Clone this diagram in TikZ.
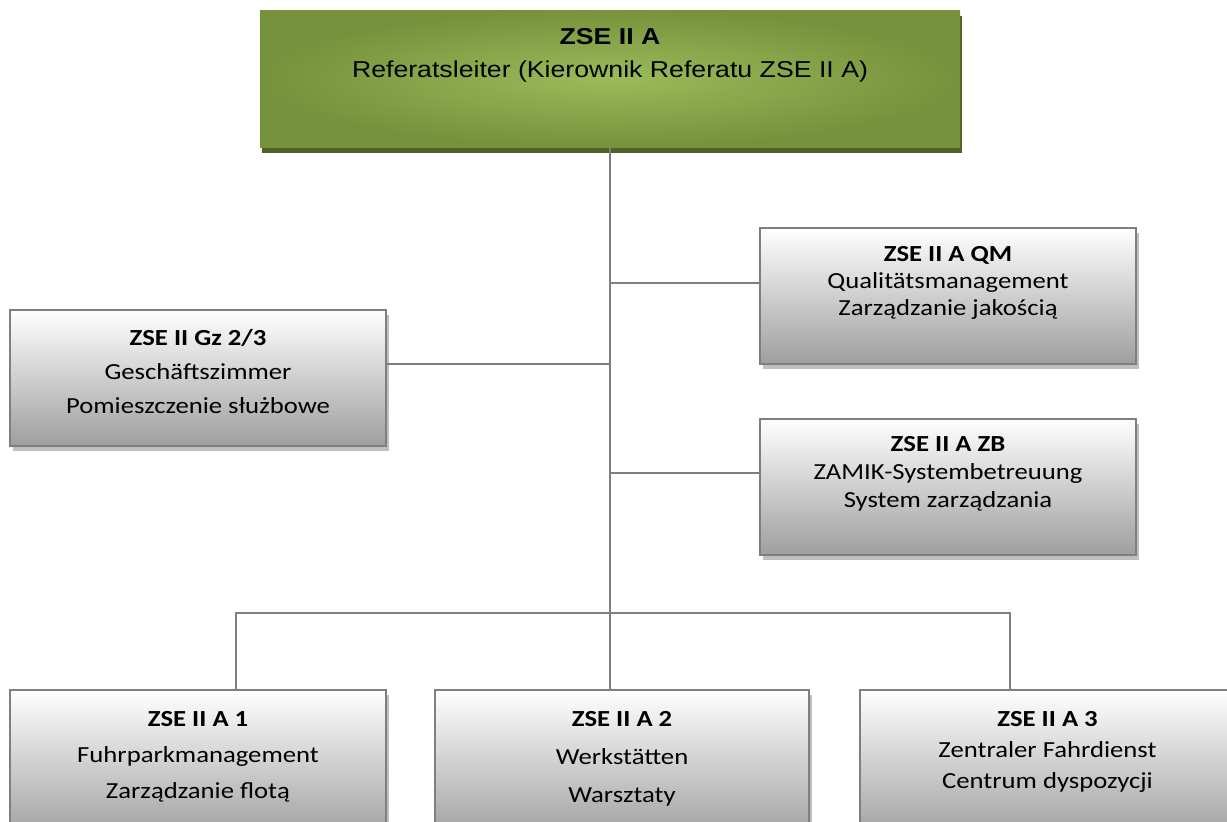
\documentclass[tikz,border=0pt]{standalone}
\usepackage{fontspec}
\usepackage{tikz}
\usetikzlibrary{positioning,shadows}
\newfontfamily\calfont{Carlito}[FakeStretch=1.16]
\newfontfamily\arialfont{Liberation Sans}[FakeStretch=1.16]
\definecolor{olivedk}{HTML}{76923C}
\definecolor{olivelt}{HTML}{9BBB59}
\definecolor{oliveshadow}{HTML}{4F6228}
\definecolor{linegray}{HTML}{7F7F7F}
\tikzset{
  unit/.style={draw=linegray, line width=1.2pt, top color=white, bottom color=black!38,
    minimum width=188pt, minimum height=68pt, inner sep=0pt,
    drop shadow={shadow xshift=1.5pt, shadow yshift=-2.5pt, fill=black!25, opacity=1}},
  unittext/.style={font=\calfont\fontsize{11.5}{#1}\selectfont, align=center, inner sep=0pt, anchor=base},
  link/.style={draw=linegray, line width=1.2pt}
}

\begin{document}
\begin{tikzpicture}[x=0.5pt, y=-0.5pt]
\useasboundingbox (0,0) rectangle (1227,821);
\clip (0,0) rectangle (1227,821);
\node[inner color=olivelt, outer color=olivedk, minimum width=350pt, minimum height=68.5pt, inner sep=0pt,
  drop shadow={shadow xshift=1.2pt, shadow yshift=-3pt, fill=oliveshadow, opacity=1}] (head) at (610,78.5) {};
\node[unit] (gz) at (198,378) {};
\node[unit] (qm) at (948,296) {};
\node[unit] (zb) at (948,487) {};
\node[unit, minimum height=75pt] (a1) at (198,765) {};
\node[unit, minimum height=75pt, minimum width=187pt] (a2) at (622,765) {};
\node[unit, minimum height=75pt, minimum width=187.5pt] (a3) at (1047.5,765) {};

\draw[link] (head.south) -- (head.south |- a2.north);
\draw[link] ([yshift=7pt]gz.east) coordinate (gzlink) -- (gzlink -| head.south);
\draw[link] ([yshift=6.5pt]qm.west) coordinate (qmlink) -- (qmlink -| head.south);
\draw[link] ([yshift=7pt]zb.west) coordinate (zblink) -- (zblink -| head.south);
\draw[link] ([xshift=19pt]a1.north) -- ++(0,-76) -| ([xshift=-18.75pt]a3.north);

\node[font=\arialfont\fontsize{11.5}{16.5}\selectfont, align=center, inner sep=0pt, anchor=base]
  at ([yshift=-34pt]head.north) {\textbf{ZSE II A}\\Referatsleiter (Kierownik Referatu ZSE II A)};
\node[unittext=17pt] at ([yshift=-52.5pt]gz.north) {\textbf{ZSE II Gz 2/3}\\Geschäftszimmer\\Pomieszczenie służbowe};
\node[unittext=13.5pt] at ([yshift=-44.5pt]qm.north) {\textbf{ZSE II A QM}\\Qualitätsmanagement\\Zarządzanie jakością};
\node[unittext=14pt] at ([yshift=-45pt]zb.north) {\textbf{ZSE II A ZB}\\ZAMIK-Systembetreuung\\System zarządzania};
\node[unittext=18pt] at ([yshift=-55pt]a1.north) {\textbf{ZSE II A 1}\\Fuhrparkmanagement\\Zarządzanie flotą};
\node[unittext=19pt] at ([yshift=-57pt]a2.north) {\textbf{ZSE II A 2}\\Werkstätten\\Warsztaty};
\node[unittext=15.5pt] at ([yshift=-50pt]a3.north) {\textbf{ZSE II A 3}\\Zentraler Fahrdienst\\Centrum dyspozycji};
\end{tikzpicture}
\end{document}
